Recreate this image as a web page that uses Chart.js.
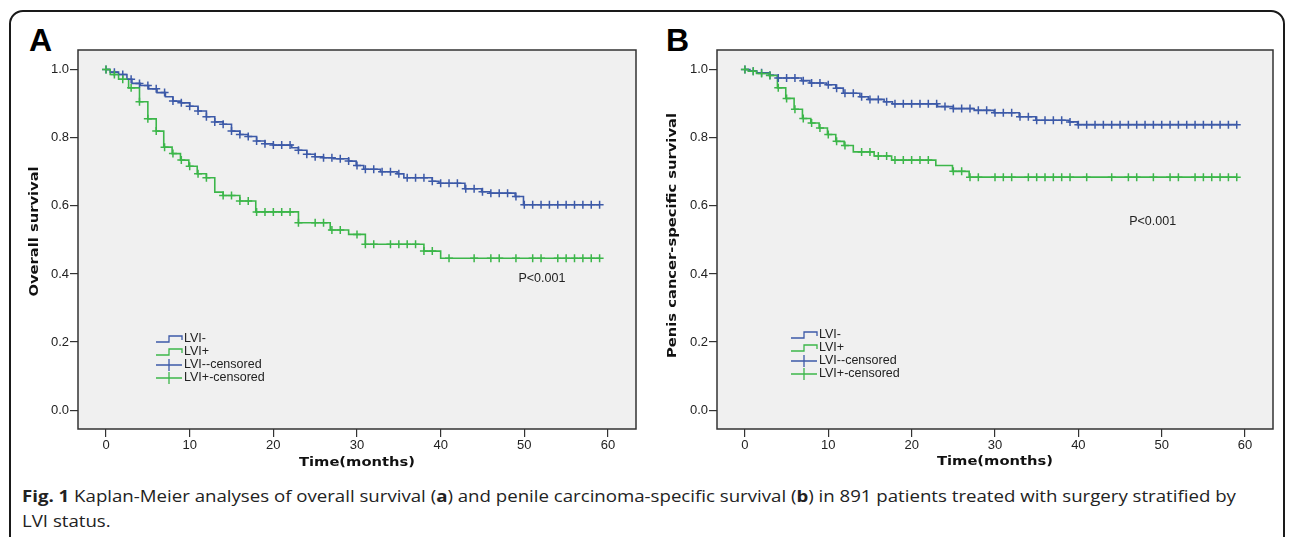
<!DOCTYPE html>
<html>
<head>
<meta charset="utf-8">
<script src="https://cdn.jsdelivr.net/npm/chart.js@4.4.1/dist/chart.umd.min.js"></script>
<style>
  html, body { margin: 0; padding: 0; background: #fff; overflow: hidden; }
  body { width: 1292px; height: 537px; position: relative; }
  #frame { position: absolute; left: 9px; top: 10px; width: 1276px; height: 600px;
           border: 2px solid #1a1a1a; border-radius: 14px; box-sizing: border-box; }
  .panel { position: absolute; top: 0; }
  #chartA { left: 20px; }
  #chartB { left: 660px; }
  .tag { position: absolute; top: 24px; font: bold 32px "Liberation Sans", Arial, sans-serif;
         line-height: 32px; color: #000; }
  #caption { position: absolute; left: 22px; top: 484px; font-family: "Open Sans", sans-serif;
             font-size: 16px; line-height: 25px; color: #222; white-space: nowrap;
             transform-origin: 0 0; }
  #cap1 { display: inline-block; }
</style>
</head>
<body>
<div id="frame"></div>
<div class="tag" style="left:29px">A</div>
<div class="tag" style="left:666px">B</div>
<canvas id="chartA" class="panel" width="630" height="480"></canvas>
<canvas id="chartB" class="panel" width="630" height="480"></canvas>
<div id="caption"><span id="cap1"><b>Fig. 1</b> Kaplan-Meier analyses of overall survival (<b>a</b>) and penile carcinoma-specific survival (<b>b</b>) in 891 patients treated with surgery stratified by</span><br>LVI status.</div>

<script>
"use strict";

// tick labels
const xTicks = [0, 10, 20, 30, 40, 50, 60];
const yTicks = [0.0, 0.2, 0.4, 0.6, 0.8, 1.0];
const groups = ["LVI-", "LVI+"];

// A: overall survival, step times (months) and survival after each step
const osNegT = [0, 0.5, 1.5, 2.5, 3.1, 4.1, 5.1, 6.1, 7.1, 8, 9, 10, 11, 12, 13, 14, 15, 16, 17, 18, 19, 20,
  22.2, 23, 24, 25, 26, 27.2, 29, 29.9, 30.8, 32.8, 34.8, 35.6, 39, 39.8, 42.9, 44.9, 45.9, 48.9, 49.9, 59];
const osNegS = [1.0, 0.992, 0.985, 0.971, 0.959, 0.953, 0.943, 0.932, 0.920, 0.907, 0.902, 0.892, 0.878, 0.861,
  0.846, 0.839, 0.819, 0.809, 0.803, 0.790, 0.782, 0.778, 0.770, 0.763, 0.751, 0.744, 0.741, 0.738, 0.731,
  0.718, 0.707, 0.700, 0.694, 0.682, 0.672, 0.666, 0.650, 0.641, 0.637, 0.627, 0.603, 0.603];
const osPosT = [0, 0.5, 1.5, 2.7, 4, 5, 6, 6.9, 7.9, 8.9, 9.9, 10.9, 12, 13, 14, 16, 17.9, 23, 26.8, 29, 31, 38, 40, 59];
const osPosS = [1.0, 0.985, 0.971, 0.946, 0.905, 0.855, 0.819, 0.772, 0.753, 0.734, 0.716, 0.694, 0.682,
  0.640, 0.630, 0.614, 0.582, 0.550, 0.529, 0.516, 0.487, 0.467, 0.446, 0.446];
// censored times
const osNegC = [0, 1, 2, 3, 4, 5, 6, 7, 8, 9, 10, 11, 12, 13, 14, 15, 16, 17, 18, 19, 20, 21, 22, 23, 24, 25, 26,
  27, 28, 29, 30, 31, 32, 33, 34, 35, 36, 37, 38, 39, 40, 41, 42, 43, 44, 45, 46, 47, 48, 49, 50, 51, 52, 53,
  54, 55, 56, 57, 58, 59];
const osPosC = [0, 1, 2, 3, 4, 5, 6, 7, 8, 9, 10, 11, 12, 14, 15, 16, 17, 18, 19, 20, 21, 22, 23, 25, 26, 27, 28,
  30, 31, 32, 34, 35, 36, 37, 38, 39, 41, 44, 46, 47, 49, 51, 52, 54, 55, 56, 57, 58, 59];

// B: penile cancer-specific survival
const cssNegT = [0, 0.6, 1.4, 3, 3.9, 6.8, 7.8, 9.8, 10.9, 11.8, 13.8, 14.8, 16.7, 17.7, 23.1, 25, 27.5, 29.9,
  32.9, 34.9, 38.9, 39.9, 59];
const cssNegS = [1.0, 0.995, 0.99, 0.983, 0.975, 0.967, 0.96, 0.955, 0.945, 0.93, 0.92, 0.912, 0.905, 0.899,
  0.891, 0.885, 0.88, 0.873, 0.861, 0.851, 0.846, 0.838, 0.838];
const cssPosT = [0, 0.4, 1.4, 2.9, 3.9, 4.9, 5.9, 6.9, 7.9, 8.9, 9.9, 10.9, 11.9, 13, 15.5, 17.6, 22.9, 24.9, 26.9, 59];
const cssPosS = [1.0, 0.995, 0.988, 0.982, 0.946, 0.915, 0.883, 0.856, 0.843, 0.828, 0.809, 0.789, 0.777,
  0.758, 0.746, 0.734, 0.718, 0.701, 0.684, 0.684];
const cssNegC = [0, 1, 2, 3, 4, 5, 6, 7, 8, 9, 10, 11, 12, 13, 14, 15, 16, 17, 18, 19, 20, 21, 22, 23, 24, 25, 26,
  27, 28, 29, 30, 31, 32, 33, 34, 35, 36, 37, 38, 39, 40, 41, 42, 43, 44, 45, 46, 47, 48, 49, 50, 51, 52, 53,
  54, 55, 56, 57, 58, 59];
const cssPosC = [0, 1, 2, 3, 4, 5, 6, 7, 8, 9, 10, 11, 12, 14, 15, 16, 17, 18, 19, 20, 21, 22, 25, 26, 27, 28,
  30, 31, 32, 34, 35, 36, 37, 38, 39, 41, 44, 46, 47, 49, 51, 52, 54, 55, 56, 57, 58, 59];

const BLUE = "#3d5aa8";
const GREEN = "#3cb64a";
const INK = "#222";

// survival value of a step curve at time t
function survAt(ts, ss, t) {
  let v = ss[0];
  for (let i = 0; i < ts.length; i++) {
    if (ts[i] <= t) v = ss[i];
  }
  return v;
}

function stretchText(ctx, text, x, y, rot) {
  ctx.save();
  ctx.translate(x, y);
  ctx.rotate(rot);
  ctx.scale(1.28, 1);
  ctx.font = 'bold 11.5px "DejaVu Sans"';
  ctx.textAlign = "center";
  ctx.textBaseline = "middle";
  ctx.fillStyle = "#111";
  ctx.fillText(text, 0, 0);
  ctx.restore();
}

const kmDecor = {
  id: "kmDecor",
  beforeDraw(chart, args, o) {
    const a = chart.chartArea, ctx = chart.ctx;
    ctx.save();
    ctx.fillStyle = "#f0f0f0";
    ctx.fillRect(a.left, a.top, a.right - a.left, a.bottom - a.top);
    ctx.restore();
  },
  afterDraw(chart, args, o) {
    const a = chart.chartArea, ctx = chart.ctx;
    const xs = chart.scales.x, ys = chart.scales.y;
    ctx.save();
    ctx.strokeStyle = "#333";
    ctx.lineWidth = 1.5;
    ctx.strokeRect(a.left, a.top, a.right - a.left, a.bottom - a.top);

    // axis titles
    stretchText(ctx, "Time(months)", (a.left + a.right) / 2, o.xTitleY, 0);
    stretchText(ctx, o.yTitle, o.yTitleX, (a.top + a.bottom) / 2 + o.yTitleShift, -Math.PI / 2);

    // p value
    ctx.font = '12.5px "Liberation Sans"';
    ctx.fillStyle = INK;
    ctx.textBaseline = "middle";
    ctx.textAlign = "left";
    ctx.fillText("P<0.001", xs.getPixelForValue(o.pAt[0]), ys.getPixelForValue(o.pAt[1]));

    // legend
    const x0 = a.left + o.legendAt[0];
    let y = a.top + o.legendAt[1];
    chart.data.datasets.forEach((ds, i) => {
      ctx.strokeStyle = ds.borderColor;
      ctx.lineWidth = 1.3;
      ctx.beginPath();
      if (i < 2) {
        ctx.moveTo(x0, y + 3);
        ctx.lineTo(x0 + 13, y + 3);
        ctx.lineTo(x0 + 13, y - 3);
        ctx.lineTo(x0 + 26, y - 3);
        ctx.lineTo(x0 + 26, y + 1);
      } else {
        ctx.moveTo(x0, y);
        ctx.lineTo(x0 + 26, y);
        ctx.moveTo(x0 + 13, y - 6);
        ctx.lineTo(x0 + 13, y + 6);
      }
      ctx.stroke();
      ctx.fillStyle = INK;
      ctx.fillText(ds.label, x0 + 28, y);
      y += 13;
    });
    ctx.restore();
  }
};

function makeKM(id, negT, negS, posT, posS, negC, posC, deco, yAxisW, padRight) {
  const line = (ts, ss) => ts.map((t, i) => ({ x: t, y: ss[i] }));
  const marks = (cs, ts, ss) => cs.map(t => ({ x: t, y: survAt(ts, ss, t) }));
  return new Chart(document.getElementById(id), {
    type: "line",
    data: {
      datasets: [
        { label: groups[0], data: line(negT, negS), stepped: "before", borderColor: BLUE,
          borderWidth: 1.6, pointRadius: 0, fill: false, order: 3 },
        { label: groups[1], data: line(posT, posS), stepped: "before", borderColor: GREEN,
          borderWidth: 1.6, pointRadius: 0, fill: false, order: 2 },
        { label: groups[0] + "-censored", data: marks(negC, negT, negS), showLine: false,
          pointStyle: "cross", pointRadius: 4, borderColor: BLUE, backgroundColor: BLUE,
          pointBorderWidth: 1.5, order: 1 },
        { label: groups[1] + "-censored", data: marks(posC, posT, posS), showLine: false,
          pointStyle: "cross", pointRadius: 4, borderColor: GREEN, backgroundColor: GREEN,
          pointBorderWidth: 1.5, order: 0 }
      ]
    },
    options: {
      responsive: false,
      animation: false,
      devicePixelRatio: 1,
      layout: { padding: { top: 50, right: padRight, left: 0, bottom: 0 } },
      plugins: { legend: { display: false }, tooltip: { enabled: false }, kmDecor: deco },
      scales: {
        x: {
          type: "linear", min: -3.35, max: 63.35,
          afterBuildTicks: s => { s.ticks = xTicks.map(v => ({ value: v })); },
          afterFit: s => { s.height = 51; },
          ticks: { font: { family: "Liberation Sans", size: 13 }, color: INK, padding: 1,
                   maxRotation: 0, autoSkip: false },
          grid: { drawOnChartArea: false, tickLength: 8, color: "#333", lineWidth: 1.2 },
          border: { display: false }
        },
        y: {
          type: "linear", min: -0.055, max: 1.057,
          afterBuildTicks: s => { s.ticks = yTicks.map(v => ({ value: v })); },
          afterFit: s => { s.width = yAxisW; },
          ticks: { font: { family: "Liberation Sans", size: 13 }, color: INK, padding: 1,
                   callback: v => v.toFixed(1) },
          grid: { drawOnChartArea: false, tickLength: 8, color: "#333", lineWidth: 1.2 },
          border: { display: false }
        }
      }
    },
    plugins: [kmDecor]
  });
}

makeKM("chartA", osNegT, osNegS, osPosT, osPosS, osNegC, osPosC,
  { yTitle: "Overall survival", yTitleX: 15, yTitleShift: -8, xTitleY: 463,
    pAt: [49.3, 0.387], legendAt: [78, 289] }, 58, 14);

makeKM("chartB", cssNegT, cssNegS, cssPosT, cssPosS, cssNegC, cssPosC,
  { yTitle: "Penis cancer-specific survival", yTitleX: 13, yTitleShift: -4, xTitleY: 462,
    pAt: [46.1, 0.553], legendAt: [74, 285] }, 57, 17);

// fit the caption line to the figure width
const cap = document.getElementById("caption");
const w = document.getElementById("cap1").offsetWidth;
cap.style.transform = "scaleX(" + (1214 / w) + ")";
</script>
</body>
</html>
